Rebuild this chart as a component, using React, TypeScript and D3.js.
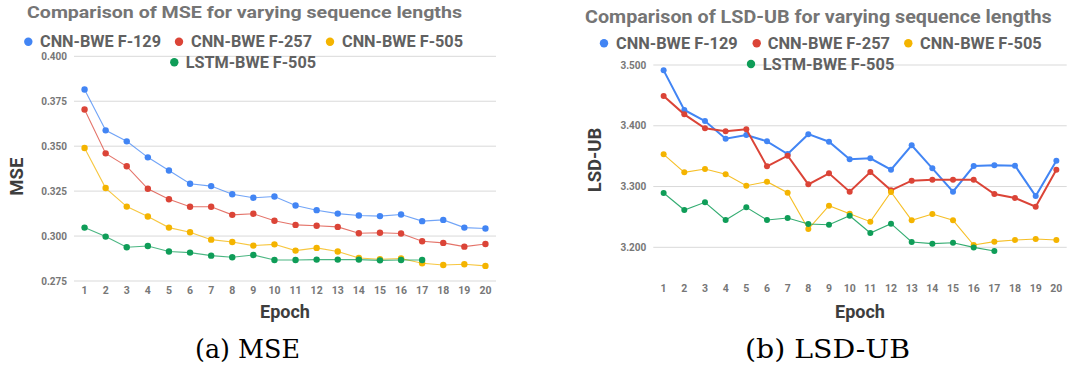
import React from "react";
import * as d3 from "d3";

const epochs = d3.range(1, 21).map(String);

const seriesNames = ["CNN-BWE F-129", "CNN-BWE F-257", "CNN-BWE F-505", "LSTM-BWE F-505"];
const seriesColors = ["#4285F4", "#DB4437", "#F4B400", "#0F9D58"];

const mseCnn129 = [0.3815, 0.3588, 0.3527, 0.3438, 0.3365, 0.3291, 0.3278, 0.3233, 0.3213, 0.322, 0.317, 0.3144, 0.3125, 0.3114, 0.3111, 0.312, 0.3083, 0.309, 0.3047, 0.3042];
const mseCnn257 = [0.3704, 0.346, 0.3388, 0.3263, 0.3205, 0.3163, 0.3163, 0.3118, 0.3124, 0.3085, 0.3062, 0.3057, 0.3051, 0.3016, 0.3018, 0.3014, 0.2971, 0.2962, 0.2941, 0.2956];
const mseCnn505 = [0.349, 0.3267, 0.3164, 0.3109, 0.3047, 0.3021, 0.298, 0.2967, 0.2947, 0.2954, 0.2919, 0.2934, 0.2914, 0.2878, 0.2871, 0.2875, 0.2849, 0.2839, 0.2843, 0.2834];
const mseLstm505 = [0.3047, 0.2997, 0.2938, 0.2945, 0.2914, 0.2908, 0.2891, 0.2882, 0.2895, 0.2867, 0.2867, 0.2869, 0.2869, 0.2869, 0.2865, 0.2867, 0.2867];

const lsdCnn129 = [3.4912, 3.426, 3.4078, 3.3788, 3.3848, 3.3744, 3.3535, 3.3862, 3.3738, 3.3448, 3.3464, 3.3278, 3.3678, 3.33, 3.2916, 3.3338, 3.3349, 3.3343, 3.2844, 3.3426];
const lsdCnn257 = [3.449, 3.4188, 3.3958, 3.3908, 3.3941, 3.3332, 3.3508, 3.3036, 3.3217, 3.2916, 3.3239, 3.2937, 3.3097, 3.3113, 3.3113, 3.3113, 3.2877, 3.2811, 3.2669, 3.3278];
const lsdCnn505 = [3.353, 3.3234, 3.3289, 3.3201, 3.3014, 3.308, 3.2899, 3.2301, 3.2685, 3.2553, 3.2422, 3.291, 3.2444, 3.2548, 3.2444, 3.2038, 3.2093, 3.212, 3.2137, 3.212];
const lsdLstm505 = [3.2894, 3.2614, 3.274, 3.2449, 3.2658, 3.2449, 3.2482, 3.2383, 3.2372, 3.252, 3.2235, 3.2389, 3.2087, 3.206, 3.2076, 3.1999, 3.1939];

const mseTicks = [0.275, 0.3, 0.325, 0.35, 0.375, 0.4];
const lsdTicks = [3.2, 3.3, 3.4, 3.5];

const FONT = "Roboto, 'Open Sans', Arial, sans-serif";

type ChartCfg = {
  title: string;
  titleX: [number, number];
  titleY: number;
  titleSize: number;
  legendRow1: { dot: number; text: [number, number] }[];
  legendRow2: { dot: number; text: [number, number] };
  legendY1: number;
  legendY2: number;
  legendSize: number;
  xRange: [number, number];
  yDomain: [number, number];
  yRange: [number, number];
  yTicks: number[];
  yFmt: (v: number) => string;
  yTitle: string;
  yTitlePos: [number, number];
  xTickY: number;
  epochY: number;
  series: number[][];
  widths: number[];
  opac: number[];
  r: number;
  caption: string;
  captionX: [number, number];
};

function Chart({ c }: { c: ChartCfg }) {
  const x = d3.scalePoint<string>().domain(epochs).range(c.xRange).padding(0.5);
  const y = d3.scaleLinear().domain(c.yDomain).range(c.yRange);
  const line = d3
    .line<number>()
    .x((_, i) => x(epochs[i]) as number)
    .y((d) => y(d));
  const [x0, x1] = c.xRange;
  const legendItems = [
    ...c.legendRow1.map((l, i) => ({ ...l, y: c.legendY1, i })),
    { ...c.legendRow2, y: c.legendY2, i: 3 },
  ];
  return (
    <g>
      <text
        x={c.titleX[0]}
        y={c.titleY}
        fontFamily={FONT}
        fontWeight="bold"
        fontSize={c.titleSize}
        fill="#757575"
        textLength={c.titleX[1] - c.titleX[0]}
        lengthAdjust="spacingAndGlyphs"
      >
        {c.title}
      </text>
      {c.yTicks.map((t) => (
        <g key={t}>
          <line x1={x0} x2={x1} y1={y(t)} y2={y(t)} stroke="#d9d9d9" strokeWidth={1} />
          <text
            x={x0 - 7}
            y={y(t)}
            dy="0.35em"
            textAnchor="end"
            fontFamily={FONT}
            fontWeight="bold"
            fontSize={10}
            fill="#777"
          >
            {c.yFmt(t)}
          </text>
        </g>
      ))}
      {epochs.map((e) => (
        <text
          key={e}
          x={x(e)}
          y={c.xTickY}
          dy="0.35em"
          textAnchor="middle"
          fontFamily={FONT}
          fontWeight="bold"
          fontSize={10.5}
          fill="#777"
        >
          {e}
        </text>
      ))}
      {legendItems.map((l) => (
        <g key={l.i}>
          <circle cx={l.dot} cy={l.y} r={4.2} fill={seriesColors[l.i]} />
          <text
            x={l.text[0]}
            y={l.y}
            dy="0.36em"
            fontFamily={FONT}
            fontWeight="bold"
            fontSize={c.legendSize}
            fill="#616161"
            textLength={l.text[1] - l.text[0]}
            lengthAdjust="spacingAndGlyphs"
          >
            {seriesNames[l.i]}
          </text>
        </g>
      ))}
      {c.series.map((s, si) => (
        <g key={si}>
          <path
            d={line(s) || ""}
            fill="none"
            stroke={seriesColors[si]}
            strokeWidth={c.widths[si]}
            strokeOpacity={c.opac[si]}
          />
          {s.map((v, i) => (
            <circle key={i} cx={x(epochs[i])} cy={y(v)} r={c.r} fill={seriesColors[si]} />
          ))}
        </g>
      ))}
      <text
        transform={`translate(${c.yTitlePos[0]},${c.yTitlePos[1]}) rotate(-90)`}
        textAnchor="middle"
        dy="0.35em"
        fontFamily={FONT}
        fontWeight="bold"
        fontSize={18.5}
        fill="#3d3d3d"
      >
        {c.yTitle}
      </text>
      <text
        x={(x0 + x1) / 2}
        y={c.epochY}
        textAnchor="middle"
        fontFamily={FONT}
        fontWeight="bold"
        fontSize={18}
        fill="#3d3d3d"
      >
        Epoch
      </text>
      <text
        x={c.captionX[0]}
        y={358.3}
        fontFamily="'DejaVu Serif', 'Liberation Serif', serif"
        fontSize={26}
        fill="#000"
        textLength={c.captionX[1] - c.captionX[0]}
        lengthAdjust="spacingAndGlyphs"
      >
        {c.caption}
      </text>
    </g>
  );
}

const left: ChartCfg = {
  title: "Comparison of MSE for varying sequence lengths",
  titleX: [27, 462],
  titleY: 18.3,
  titleSize: 17.3,
  legendRow1: [
    { dot: 28.3, text: [40, 161] },
    { dot: 179, text: [191, 312] },
    { dot: 330, text: [342, 463] },
  ],
  legendRow2: { dot: 174.3, text: [185.7, 316] },
  legendY1: 41.7,
  legendY2: 62.3,
  legendSize: 16,
  xRange: [74, 496],
  yDomain: [0.275, 0.4],
  yRange: [281, 56.3],
  yTicks: mseTicks,
  yFmt: d3.format(".3f"),
  yTitle: "MSE",
  yTitlePos: [16.7, 176.7],
  xTickY: 290.7,
  epochY: 318,
  series: [mseCnn129, mseCnn257, mseCnn505, mseLstm505],
  widths: [1.1, 1.1, 1.1, 1.1],
  opac: [0.75, 0.75, 0.75, 0.75],
  r: 3.2,
  caption: "(a) MSE",
  captionX: [195, 300],
};

const right: ChartCfg = {
  title: "Comparison of LSD-UB for varying sequence lengths",
  titleX: [585, 1051.7],
  titleY: 22.7,
  titleSize: 18.8,
  legendRow1: [
    { dot: 604, text: [616, 737.7] },
    { dot: 756.7, text: [767.7, 890] },
    { dot: 908.3, text: [920, 1041.7] },
  ],
  legendRow2: { dot: 751, text: [762.7, 894.3] },
  legendY1: 43.3,
  legendY2: 64,
  legendSize: 16.5,
  xRange: [653.3, 1066.7],
  yDomain: [3.15, 3.5],
  yRange: [277.7, 65],
  yTicks: lsdTicks,
  yFmt: d3.format(".3f"),
  yTitle: "LSD-UB",
  yTitlePos: [594.3, 160],
  xTickY: 288,
  epochY: 318,
  series: [lsdCnn129, lsdCnn257, lsdCnn505, lsdLstm505],
  widths: [2, 2, 1.1, 1.1],
  opac: [1, 1, 0.85, 0.85],
  r: 3.0,
  caption: "(b) LSD-UB",
  captionX: [745, 910],
};

export default function App() {
  return (
    <svg
      width={1075}
      height={367}
      style={{ position: "absolute", left: 0, top: 0, background: "#fff" }}
    >
      <Chart c={left} />
      <Chart c={right} />
    </svg>
  );
}
